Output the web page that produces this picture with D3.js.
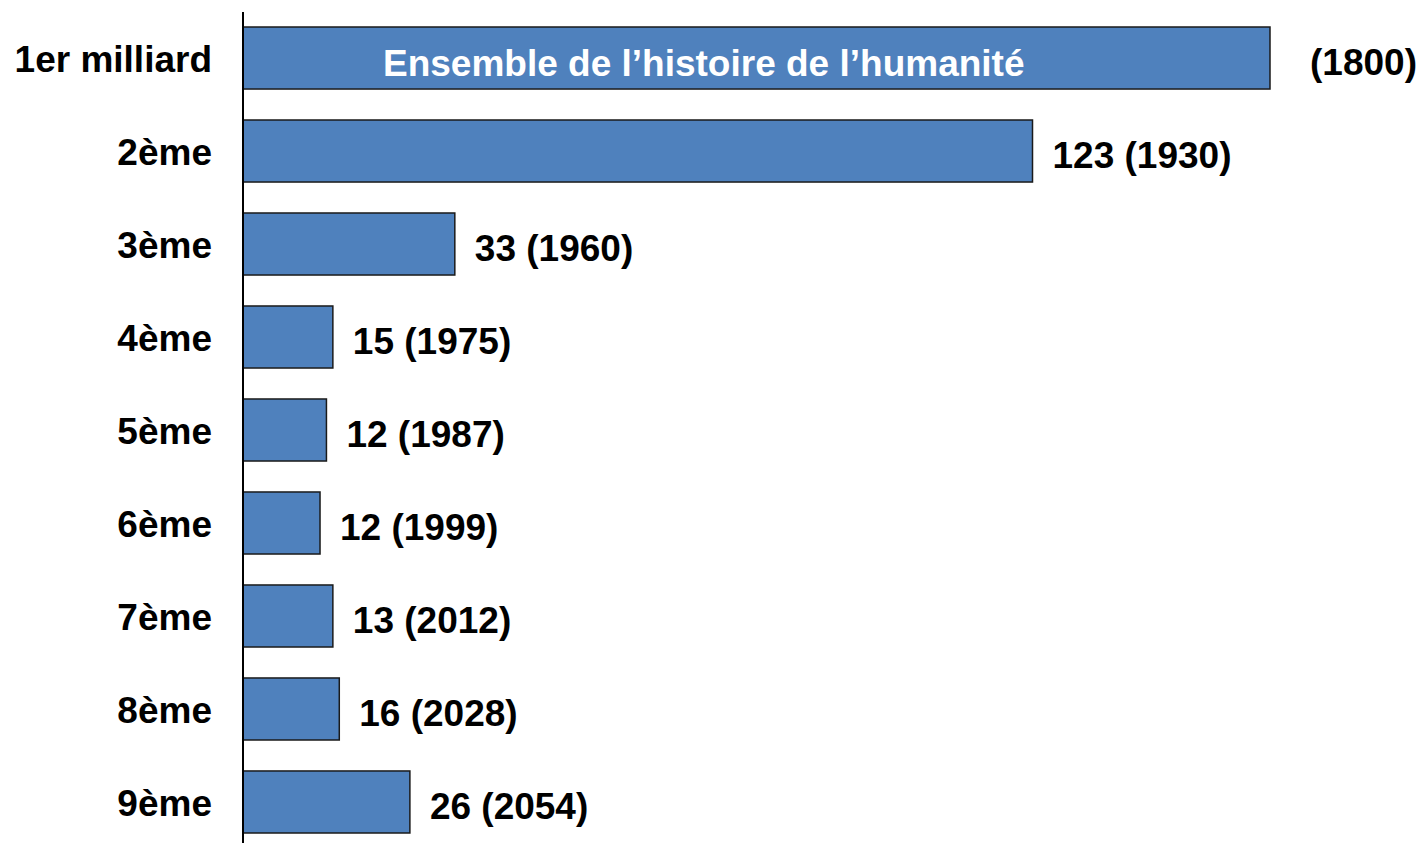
<!DOCTYPE html>
<html>
<head>
<meta charset="utf-8">
<script src="https://cdn.jsdelivr.net/npm/d3@7"></script>
<style>
  body { margin: 0; background: #fff; }
  text { font-family: Arial, "Liberation Sans", sans-serif; font-weight: bold; }
</style>
</head>
<body>
<script>
// rank of each billion
const categories = ['1er milliard', '2ème', '3ème', '4ème', '5ème', '6ème', '7ème', '8ème', '9ème'];
// bar lengths as drawn (years), first bar is the whole of history, truncated
const barValues = [160, 123, 33, 14, 13, 12, 14, 15, 26];
// years taken to add that billion, as labelled
const gapLabels = [null, 123, 33, 15, 12, 12, 13, 16, 26];
// year the billion was reached
const years = [1800, 1930, 1960, 1975, 1987, 1999, 2012, 2028, 2054];
const firstBarText = 'Ensemble de l\u2019histoire de l\u2019humanité';

const width = 1421, height = 843;
const left = 243;
const fontSize = 37;

const svg = d3.select('body').append('svg')
    .attr('width', width)
    .attr('height', height);

const x = d3.scaleLinear()
    .domain([0, 160])
    .range([left, 1270]);

const y = d3.scaleBand()
    .domain(categories)
    .range([11.5, 848.5])
    .paddingInner(0.333)
    .paddingOuter(0.1667);

const rows = categories.map((c, i) => ({
    cat: c, value: barValues[i], gap: gapLabels[i], year: years[i]
}));

svg.selectAll('rect.bar')
    .data(rows)
    .join('rect')
    .attr('class', 'bar')
    .attr('x', x(0))
    .attr('y', d => y(d.cat))
    .attr('width', d => x(d.value) - x(0))
    .attr('height', y.bandwidth())
    .attr('fill', '#4f81bd')
    .attr('stroke', '#1a1a1a')
    .attr('stroke-width', 1.5);

// category labels
svg.selectAll('text.cat')
    .data(rows)
    .join('text')
    .attr('class', 'cat')
    .attr('x', left - 31)
    .attr('y', d => y(d.cat) + y.bandwidth() / 2)
    .attr('dy', '0.38em')
    .attr('text-anchor', 'end')
    .attr('font-size', fontSize)
    .attr('fill', '#000')
    .text(d => d.cat);

// value labels
svg.selectAll('text.val')
    .data(rows)
    .join('text')
    .attr('class', 'val')
    .attr('x', (d, i) => x(d.value) + (i === 0 ? 40 : 20))
    .attr('y', d => y(d.cat) + y.bandwidth() / 2)
    .attr('dy', '0.45em')
    .attr('font-size', fontSize)
    .attr('fill', '#000')
    .text(d => d.gap == null ? '(' + d.year + ')' : d.gap + ' (' + d.year + ')');

// text inside the first bar
svg.append('text')
    .attr('x', left + 140)
    .attr('y', y(categories[0]) + y.bandwidth() / 2)
    .attr('dy', '0.48em')
    .attr('font-size', fontSize)
    .attr('fill', '#fff')
    .text(firstBarText);

// vertical axis line
svg.append('line')
    .attr('x1', left).attr('x2', left)
    .attr('y1', 12).attr('y2', height)
    .attr('stroke', '#000')
    .attr('stroke-width', 2);
</script>
</body>
</html>
